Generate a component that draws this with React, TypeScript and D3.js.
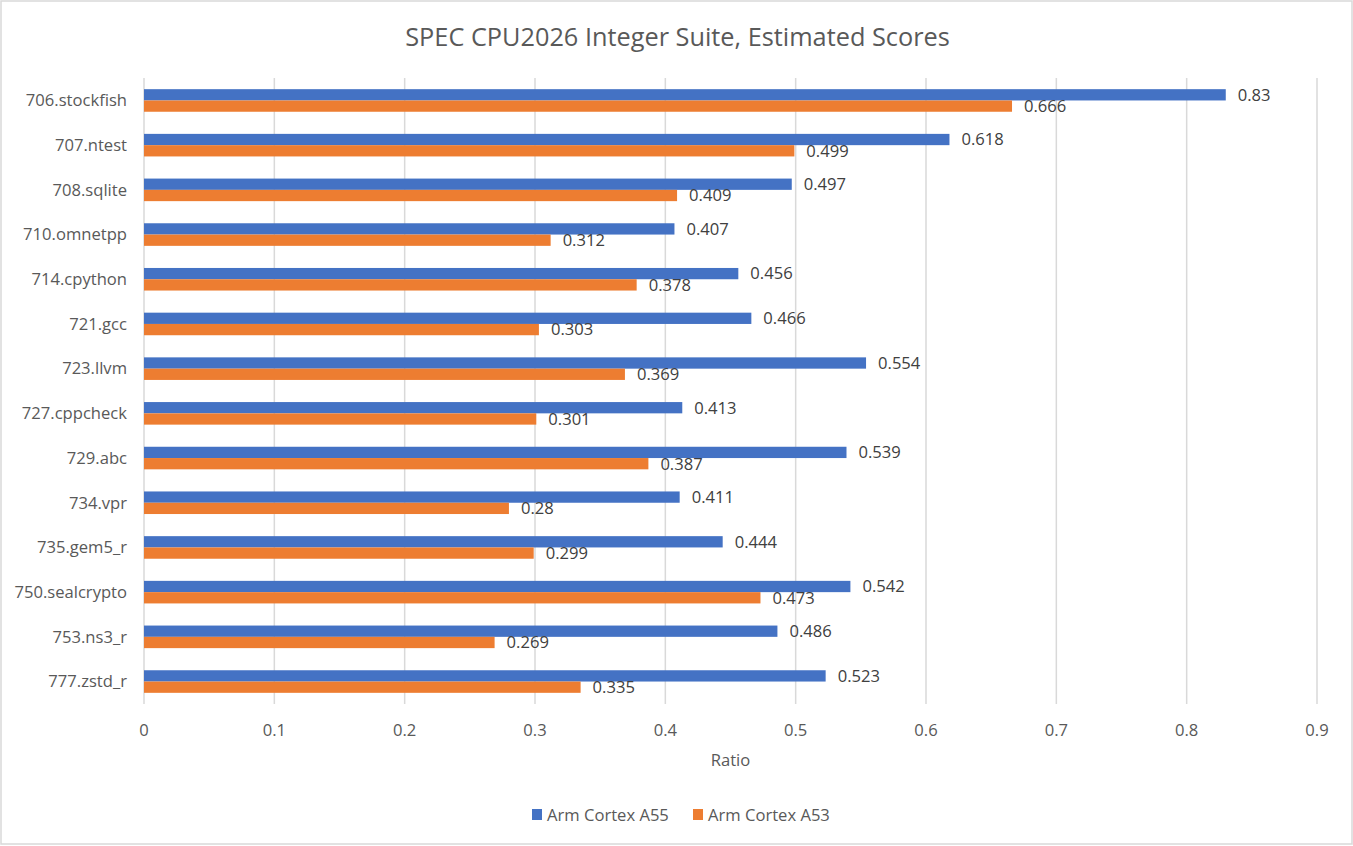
import * as d3 from 'd3';

const W = 1353;
const H = 846;
const [mt, mr, mb, ml] = [78, 36, 142, 144];

const categories = [
    '706.stockfish',
    '707.ntest',
    '708.sqlite',
    '710.omnetpp',
    '714.cpython',
    '721.gcc',
    '723.llvm',
    '727.cppcheck',
    '729.abc',
    '734.vpr',
    '735.gem5_r',
    '750.sealcrypto',
    '753.ns3_r',
    '777.zstd_r'
];
const a55 = [0.83, 0.618, 0.497, 0.407, 0.456, 0.466, 0.554, 0.413, 0.539, 0.411, 0.444, 0.542, 0.486, 0.523];
const a53 = [0.666, 0.499, 0.409, 0.312, 0.378, 0.303, 0.369, 0.301, 0.387, 0.28, 0.299, 0.473, 0.269, 0.335];
const seriesNames = ['Arm Cortex A55', 'Arm Cortex A53'];
const colors = ['#4472C4', '#ED7D31'];
const xTicks = [0, 0.1, 0.2, 0.3, 0.4, 0.5, 0.6, 0.7, 0.8, 0.9];

const font = '"Open Sans", "Noto Sans", sans-serif';
const fs = 16.6;

export default function App() {
    const x = d3.scaleLinear().domain([0, 0.9]).range([ml, W - mr]);
    const y = d3.scaleBand<string>().domain(categories).range([mt, H - mb]).paddingInner(0.495).paddingOuter(0.25);
    const inner = d3.scaleBand<number>().domain([0, 1]).range([0, y.bandwidth()]);
    const series = [a55, a53];
    const bottom = H - mb;

    return (
        <div style={{ position: 'fixed', left: 0, top: 0 }}>
            <svg width={W} height={H} style={{ display: 'block', fontFamily: font }}>
                <rect x={0} y={0} width={W} height={H} fill="#ffffff" />
                <rect x={1} y={1} width={W - 2} height={H - 3} fill="none" stroke="#d9d9d9" strokeWidth={1.5} />

                <text x={W / 2 + 1} y={46} textAnchor="middle" fontSize={25.3} fill="#595959">
                    SPEC CPU2026 Integer Suite, Estimated Scores
                </text>

                {/* gridlines */}
                {xTicks.map((t) => (
                    <line key={t} x1={x(t)} x2={x(t)} y1={mt} y2={bottom} stroke="#d9d9d9" strokeWidth={1.5} />
                ))}

                {/* bars */}
                {series.map((vals, si) =>
                    vals.map((v, i) => {
                        const by = (y(categories[i]) ?? 0) + (inner(si) ?? 0);
                        return (
                            <g key={`${si}-${i}`}>
                                <rect x={x(0)} y={by} width={x(v) - x(0)} height={inner.bandwidth()} fill={colors[si]} />
                                <text
                                    x={x(v) + 12}
                                    y={by + inner.bandwidth() / 2}
                                    dy="0.35em"
                                    fontSize={fs}
                                    fill="#404040"
                                >
                                    {String(v)}
                                </text>
                            </g>
                        );
                    })
                )}

                {/* category labels */}
                {categories.map((c) => (
                    <text
                        key={c}
                        x={ml - 17}
                        y={(y(c) ?? 0) + y.bandwidth() / 2}
                        dy="0.35em"
                        textAnchor="end"
                        fontSize={fs}
                        fill="#595959"
                    >
                        {c}
                    </text>
                ))}

                {/* x tick labels */}
                {xTicks.map((t) => (
                    <text key={t} x={x(t)} y={bottom + 32} textAnchor="middle" fontSize={fs} fill="#595959">
                        {String(t)}
                    </text>
                ))}

                <text x={(x(0) + x(0.9)) / 2} y={766} textAnchor="middle" fontSize={fs} fill="#595959">
                    Ratio
                </text>

                {/* legend */}
                {seriesNames.map((n, i) => {
                    const lx = 532 + i * 161;
                    return (
                        <g key={n}>
                            <rect x={lx} y={809} width={10} height={11} fill={colors[i]} />
                            <text x={lx + 15} y={815} dy="0.35em" fontSize={fs} fill="#595959">
                                {n}
                            </text>
                        </g>
                    );
                })}
            </svg>
        </div>
    );
}
